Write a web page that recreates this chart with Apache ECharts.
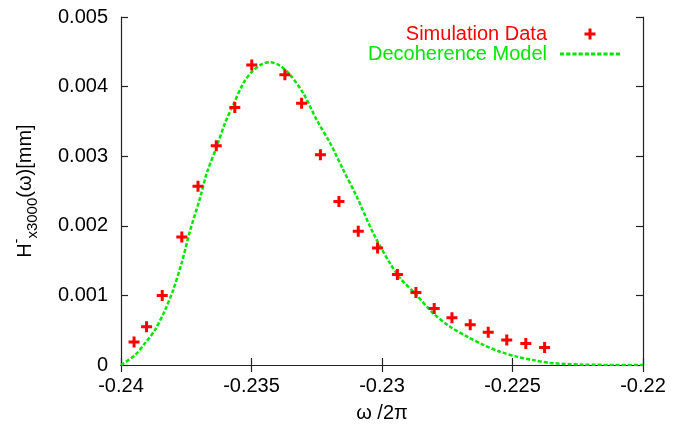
<!DOCTYPE html>
<html>
<head>
<meta charset="utf-8">
<script src="https://cdn.jsdelivr.net/npm/echarts@6/dist/echarts.min.js"></script>
<style>
html,body{margin:0;padding:0;background:#fff;}
#chart{width:695px;height:428px;}
</style>
</head>
<body>
<div id="chart"></div>
<script>
// simulation points
var simX = [-0.2395,-0.23902,-0.23842,-0.23767,-0.23705,-0.23635,-0.23564,-0.23499,-0.23372,-0.23308,-0.23236,-0.23165,-0.23091,-0.23017,-0.22941,-0.2287,-0.2280,-0.22732,-0.22662,-0.22593,-0.22522,-0.22449,-0.22377];
var simY = [0.00033,0.00055,0.00100,0.00184,0.00257,0.00315,0.00370,0.00431,0.00417,0.00376,0.00302,0.00235,0.00192,0.00168,0.00130,0.00104,0.00081,0.00068,0.00058,0.00047,0.00036,0.00031,0.00025];

// decoherence model curve
var modelX = [-0.24,-0.23946,-0.23908,-0.2387,-0.23831,-0.238,-0.23768,-0.23736,-0.23697,-0.23672,-0.23633,-0.23602,-0.2357,-0.23531,-0.23499,-0.23461,-0.23429,-0.23391,-0.23352,-0.23301,-0.2325,-0.23199,-0.23148,-0.23097,-0.23033,-0.22969,-0.22931,-0.22874,-0.22803,-0.22739,-0.22675,-0.22612,-0.22548,-0.22484,-0.2242,-0.22356,-0.22229,-0.22];
var modelY = [0,0.000144,0.000312,0.000503,0.00079,0.00108,0.00146,0.00192,0.0024,0.00275,0.00314,0.00347,0.00374,0.00405,0.00421,0.00432,0.00435,0.0043,0.00417,0.0039,0.00352,0.00319,0.0028,0.00242,0.00189,0.00146,0.00125,0.00103,0.00074,0.00055,0.00041,0.00029,0.00019,0.00012,0.00007,0.00003,0.000005,0];

var xMin = -0.24, xMax = -0.22, xStep = 0.005;
var yMin = 0, yMax = 0.005, yStep = 0.001;

var font = 'Liberation Sans';
var green = '#00e600';
var plus = 'path://M4,0H7V4H11V7H7V11H4V7H0V4H4Z';

// dashed legend swatch, 60 x 3
var dashes = 'path://';
for(var d=0; d<10; d++){
	dashes += 'M'+(d*6)+',0h4v3h-4Z';
}

function pairs(xs, ys){
	var out = [];
	for(var i=0;i<xs.length;i++){ out.push([xs[i], ys[i]]); }
	return out;
}

var axisLine = {show:true, lineStyle:{color:'#222', width:1.2}};
var axisTick = {show:true, inside:true, length:7, lineStyle:{color:'#222', width:1.2}};

var myChart = echarts.init(document.getElementById('chart'));
myChart.setOption({
	animation:false,
	backgroundColor:'#fff',
	grid:{left:121, right:52, top:17, bottom:63},
	legend:{
		orient:'vertical',
		right:70,
		top:19,
		align:'right',
		itemWidth:60,
		itemHeight:11,
		itemGap:0,
		textStyle:{fontSize:20, lineHeight:20, fontFamily:font, padding:[0,8,0,0]},
		data:[
			{name:'Simulation Data', icon:plus, textStyle:{color:'#ff0000'}},
			{name:'Decoherence Model', icon:dashes, itemStyle:{color:green}, textStyle:{color:green}}
		]
	},
	xAxis:[{
		type:'value', min:xMin, max:xMax, interval:xStep,
		name:'ω /2π', nameLocation:'middle', nameGap:38,
		nameTextStyle:{fontSize:20, fontFamily:font, color:'#000', lineHeight:20},
		axisLine:axisLine, axisTick:axisTick,
		axisLabel:{fontSize:20, fontFamily:font, color:'#000', margin:11},
		splitLine:{show:false}
	},{
		type:'value', min:xMin, max:xMax, interval:xStep, position:'top',
		axisLine:axisLine, axisTick:axisTick,
		axisLabel:{show:false}, splitLine:{show:false}
	}],
	yAxis:[{
		type:'value', min:yMin, max:yMax, interval:yStep,
		name:'{m|H}{sup|-}{sub|x3000}{m|(ω)[mm]}', nameLocation:'middle', nameGap:81,
		nameTextStyle:{
			fontFamily:font, color:'#000',
			rich:{
				m:{fontSize:20, fontFamily:font, color:'#000', lineHeight:30},
				sup:{fontSize:14, fontFamily:font, color:'#000', lineHeight:22, verticalAlign:'top'},
				sub:{fontSize:15, fontFamily:font, color:'#000', lineHeight:15, verticalAlign:'bottom'}
			}
		},
		axisLine:axisLine, axisTick:axisTick,
		axisLabel:{fontSize:20, fontFamily:font, color:'#000', margin:13},
		splitLine:{show:false}
	},{
		type:'value', min:yMin, max:yMax, interval:yStep, position:'right',
		axisLine:axisLine, axisTick:axisTick,
		axisLabel:{show:false}, splitLine:{show:false}
	}],
	series:[{
		name:'Decoherence Model',
		type:'line',
		data:pairs(modelX, modelY),
		smooth:0.3,
		showSymbol:false,
		symbol:'none',
		z:2,
		lineStyle:{color:green, width:2.5, type:[4,2]},
		itemStyle:{color:green}
	},{
		name:'Simulation Data',
		type:'scatter',
		data:pairs(simX, simY),
		symbol:plus,
		symbolSize:11,
		z:3,
		itemStyle:{color:'#ff0000', opacity:1}
	}]
});
</script>
</body>
</html>
